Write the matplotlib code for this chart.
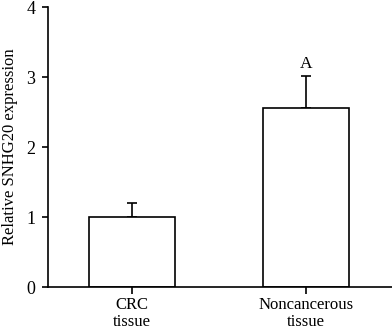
import matplotlib
matplotlib.use("Agg")
import matplotlib.pyplot as plt
import numpy as np

categories = ["CRC\ntissue", "Noncancerous\ntissue"]
means = [1.0, 2.56]
errors_upper = [0.2, 0.45]
annotations = ["", "A"]
y_ticks = [0, 1, 2, 3, 4]
y_label = "Relative SNHG20 expression"

plt.rcParams['font.family'] = ['Liberation Serif', 'DejaVu Serif']

fig = plt.figure(figsize=(3.92, 3.30), dpi=100)
ax = fig.add_axes([48/392, 1-287/330, 1-48/392, (287-7)/330])

x = np.arange(len(categories))
lw = 1.2
ax.bar(x, means, width=0.49, color="white", edgecolor="black", linewidth=lw, zorder=2)
ax.errorbar(x, means, yerr=[np.zeros(len(means)), errors_upper], fmt="none",
            ecolor="black", elinewidth=lw, capsize=3.5, capthick=lw, zorder=1)
for xi, m, e, a in zip(x, means, errors_upper, annotations):
    if a:
        ax.text(xi, m + e + 0.06, a, ha="center", va="bottom", fontsize=12.5)

ax.set_xlim(-0.483, 1.494)
ax.set_ylim(0, 4)
ax.set_yticks(y_ticks)
ax.set_xticks(x)
ax.set_xticklabels(categories, fontsize=12, linespacing=1.1)
ax.tick_params(axis="y", labelsize=13, length=4, width=lw, direction="out", pad=5)
ax.tick_params(axis="x", length=5, width=lw, direction="out", pad=2)
ax.set_ylabel(y_label, fontsize=12, labelpad=6)
for s in ["top", "right"]:
    ax.spines[s].set_visible(False)
for s in ["left", "bottom"]:
    ax.spines[s].set_linewidth(lw)

fig.savefig("out.png", dpi=100)
